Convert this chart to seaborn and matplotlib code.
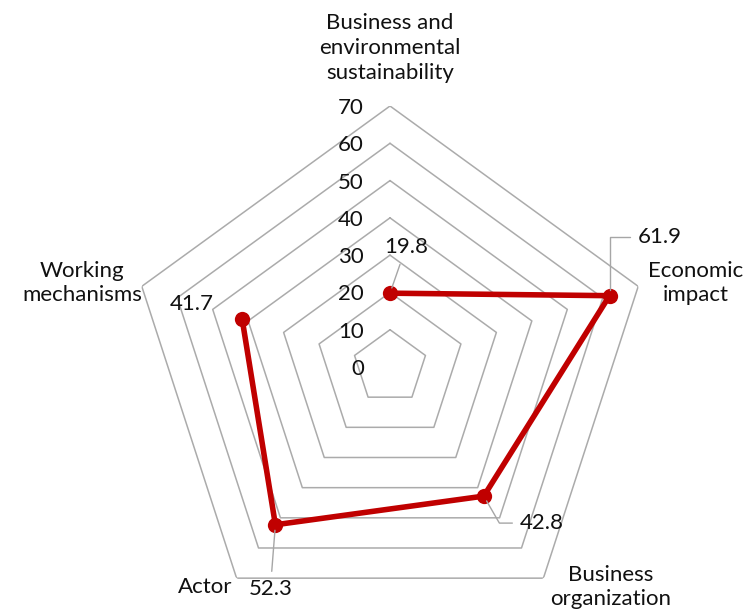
import numpy as np
import pandas as pd
import matplotlib.pyplot as plt
import seaborn as sns

categories = ["Business and\nenvironmental\nsustainability", "Economic\nimpact",
              "Business\norganization", "Actor", "Working\nmechanisms"]
scores = [19.8, 61.9, 42.8, 52.3, 41.7]
ring_levels = [10, 20, 30, 40, 50, 60, 70]
tick_labels = [0, 10, 20, 30, 40, 50, 60, 70]

sns.set_style("white")
plt.rcParams["font.family"] = ["Lato", "DejaVu Sans"]
plt.rcParams["font.size"] = 16
plt.rcParams["text.color"] = "#111111"

W, H = 743, 613
n = len(categories)
angles = np.linspace(0, 2 * np.pi, n, endpoint=False)
loop = np.append(angles, angles[0])

fig = plt.figure(figsize=(W / 100, H / 100), dpi=100)
ax = fig.add_axes([129 / W, (H - 367 - 261) / H, 522 / W, 522 / H], projection="polar")
ax.set_theta_offset(np.pi / 2)
ax.set_theta_direction(-1)
ax.set_ylim(0, 70)
ax.grid(False)
ax.spines["polar"].set_visible(False)
ax.set_xticks([])
ax.set_yticks([])

# pentagon gridlines
for lvl in ring_levels:
    ax.plot(loop, [lvl] * len(loop), color="#ababab", lw=1.1, zorder=1)

df = pd.DataFrame({"angle": loop, "score": scores + scores[:1]})
sns.lineplot(data=df, x="angle", y="score", sort=False, color="#c00000", lw=4,
             marker="o", markersize=11, markeredgewidth=0, ax=ax, zorder=3)
ax.set_xlabel("")
ax.set_ylabel("")

# radial tick labels on the top spoke
for v in tick_labels:
    ax.annotate(str(v), xy=(0, v), xytext=(-26, 0), textcoords="offset pixels",
                ha="right", va="center_baseline")

# value labels with leader lines
offsets = [(16, 46), (50, 59), (58, -27), (-5, -64), (-50, 15)]
leaders = [True, True, True, True, False]
conns = ["arc3", "angle,angleA=0,angleB=90,rad=0", "angle,angleA=0,angleB=-60,rad=0", "arc3", "arc3"]
for a, s, off, lead, cs in zip(angles, scores, offsets, leaders, conns):
    props = dict(arrowstyle="-", color="#a6a6a6", lw=1, shrinkA=3, shrinkB=4,
                 connectionstyle=cs) if lead else None
    ax.annotate(f"{s}", xy=(a, s), xytext=off, textcoords="offset pixels",
                ha="center", va="center", arrowprops=props, zorder=4)

# category labels
cat_pos = [(390, 48), (696, 283), (611, 587), (205, 587), (82, 283)]
for lab, (x, y) in zip(categories, cat_pos):
    fig.text(x / W, 1 - y / H, lab, ha="center", va="center", linespacing=1.3)

fig.savefig("out.png", dpi=100)
